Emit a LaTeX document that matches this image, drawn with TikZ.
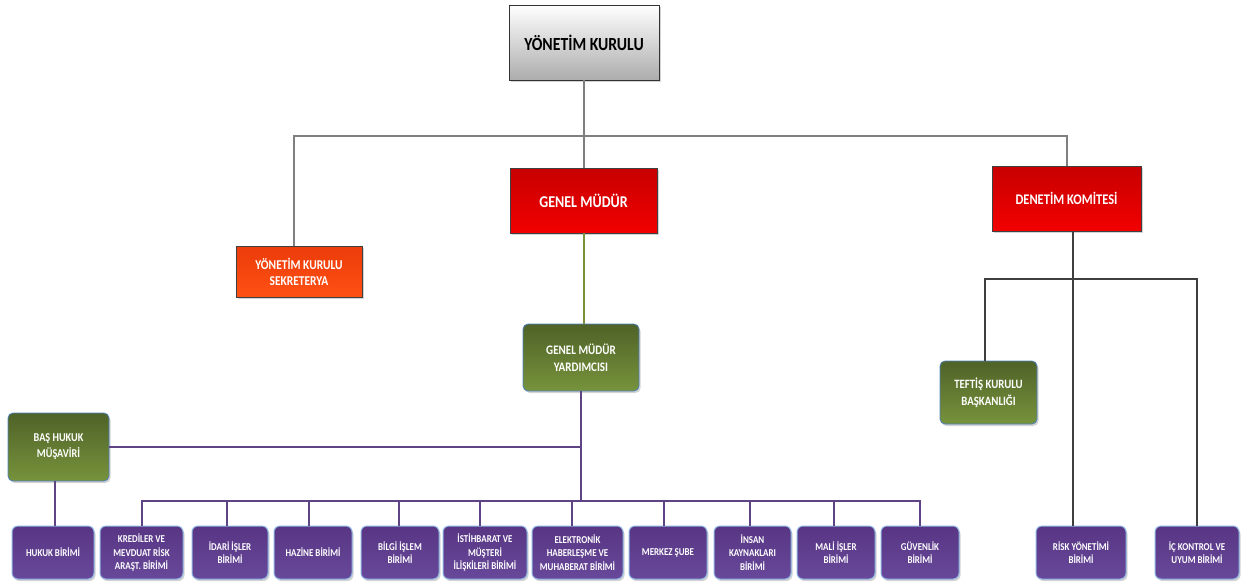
\documentclass[tikz,border=0pt]{standalone}
\usepackage{fontspec}
\setmainfont{Carlito}[FakeStretch=0.85]
\usetikzlibrary{shadows}
\definecolor{lgray}{HTML}{7F7F7F}
\definecolor{dgray}{HTML}{3F3F3F}
\definecolor{lpurp}{HTML}{5E4484}
\definecolor{lgreen}{HTML}{77933C}
\begin{document}
\begin{tikzpicture}[x=1pt,y=-1pt,
  box/.style={draw, line width=0.9pt, inner sep=2pt, align=center, font=\bfseries,
     drop shadow={shadow xshift=1.5pt,shadow yshift=-2pt,opacity=0.35}},
  graybox/.style={box, draw=black!80, top color=white, bottom color=gray!65, text=black},
  redbox/.style={box, draw=black!75, top color=red!78!black, bottom color=red!95!black, text=white},
  orangebox/.style={box, draw=black!75, top color={rgb,255:red,235;green,60;blue,10}, bottom color={rgb,255:red,255;green,80;blue,20}, text=white},
  greenbox/.style={box, rounded corners=5pt, draw={rgb,255:red,79;green,129;blue,189}, line width=0.8pt,
     top color={rgb,255:red,79;green,98;blue,40}, bottom color={rgb,255:red,119;green,147;blue,60}, text=white},
  purpbox/.style={box, rounded corners=6pt, draw={rgb,255:red,141;green,179;blue,226}, line width=1pt,
     top color={rgb,255:red,88;green,54;blue,132}, bottom color={rgb,255:red,104;green,72;blue,154}, text=white,
     minimum height=53pt, font=\bfseries\fontsize{10.5}{13.5}\selectfont},
  grayline/.style={draw=lgray, line width=2pt},
  darkline/.style={draw=dgray, line width=2pt},
  purpline/.style={draw=lpurp, line width=2pt},
  greenline/.style={draw=lgreen, line width=2pt}]
\useasboundingbox (0,0) rectangle (1250,584);

% top level
\node[graybox, minimum width=150pt, minimum height=75pt, font=\bfseries\fontsize{18.5}{20}\selectfont] (yk) at (584,42.5) {YÖNETİM KURULU};
\node[redbox, minimum width=147pt, minimum height=65pt, font=\bfseries\fontsize{16.5}{18}\selectfont] (gm) at (583.5,200.5) {GENEL MÜDÜR};
\node[redbox, minimum width=149pt, minimum height=65pt, font=\bfseries\fontsize{14.7}{16}\selectfont] (dk) at (1066.5,198.5) {DENETİM KOMİTESİ};
\node[orangebox, minimum width=126pt, minimum height=51pt, font=\bfseries\fontsize{13.5}{16}\selectfont] (sek) at (299,271.5) {YÖNETİM KURULU\\SEKRETERYA};
\node[greenbox, minimum width=116pt, minimum height=67pt, font=\bfseries\fontsize{13}{17}\selectfont] (gmy) at (581,357.5) {GENEL MÜDÜR\\YARDIMCISI};
\node[greenbox, minimum width=101pt, minimum height=68pt, font=\bfseries\fontsize{12}{16}\selectfont] (bhm) at (58.5,447) {BAŞ HUKUK\\MÜŞAVİRİ};
\node[greenbox, minimum width=97pt, minimum height=63pt, font=\bfseries\fontsize{12.7}{17}\selectfont] (tef) at (988.5,392.5) {TEFTİŞ KURULU\\BAŞKANLIĞI};

% bottom units
\node[purpbox, minimum width=82pt] (huk) at (53,552.5) {HUKUK BİRİMİ};
\node[purpbox, minimum width=83pt] (kred) at (141.5,552.5) {KREDİLER VE\\MEVDUAT RİSK\\ARAŞT. BİRİMİ};
\node[purpbox, minimum width=76pt] (idari) at (230,552.5) {İDARİ İŞLER\\BİRİMİ};
\node[purpbox, minimum width=78pt] (haz) at (313,552.5) {HAZİNE BİRİMİ};
\node[purpbox, minimum width=78pt] (bilgi) at (400,552.5) {BİLGİ İŞLEM\\BİRİMİ};
\node[purpbox, minimum width=84pt] (ist) at (485,552.5) {İSTİHBARAT VE\\MÜŞTERİ\\İLİŞKİLERİ BİRİMİ};
\node[purpbox, minimum width=91pt] (elek) at (577.5,552.5) {ELEKTRONİK\\HABERLEŞME VE\\MUHABERAT BİRİMİ};
\node[purpbox, minimum width=78pt] (merk) at (668,552.5) {MERKEZ ŞUBE};
\node[purpbox, minimum width=77pt] (ins) at (752.5,552.5) {İNSAN\\KAYNAKLARI\\BİRİMİ};
\node[purpbox, minimum width=78pt] (mali) at (836,552.5) {MALİ İŞLER\\BİRİMİ};
\node[purpbox, minimum width=78pt] (guv) at (920,552.5) {GÜVENLİK\\BİRİMİ};
\node[purpbox, minimum width=90pt] (risk) at (1081,552.5) {RİSK YÖNETİMİ\\BİRİMİ};
\node[purpbox, minimum width=84pt] (ic) at (1197,552.5) {İÇ KONTROL VE\\UYUM BİRİMİ};

% bus coordinates
\coordinate (tb) at (0,136);
\coordinate (db) at (0,279);
\coordinate (bus) at (0,501);

% connectors top
\draw[grayline] (yk.south) -- (yk.south |- gm.north);
\draw[grayline] ([xshift=-5pt]sek.north) -- ([xshift=-5pt]sek.north |- tb) -| ([xshift=0.5pt]dk.north);
\draw[greenline] (gm.south) -- (gm.south |- gmy.north);

% denetim
\draw[darkline] ([xshift=6.5pt]dk.south) -- ([xshift=6.5pt]dk.south |- risk.north);
\draw[darkline] ([xshift=-3.5pt]tef.north) -- ([xshift=-3.5pt]tef.north |- db) -| (ic.north);

% purple
\draw[purpline] (gmy.south) -- (gmy.south |- bus);
\draw[purpline] (bhm.east) -- (bhm.east -| gmy.south);
\draw[purpline] ([xshift=-3.5pt]bhm.south) -- ([xshift=-3.5pt]bhm.south |- huk.north);
\draw[purpline] (kred.north) -- (kred.north |- bus) -| (guv.north);
\foreach \n/\dx in {idari/-3,haz/-4,bilgi/-1,ist/-5,elek/-6,merk/-4,ins/-2.5,mali/-2}
  \draw[purpline] ([xshift=\dx pt]\n.north) -- ([xshift=\dx pt]\n.north |- bus);
\end{tikzpicture}
\end{document}
